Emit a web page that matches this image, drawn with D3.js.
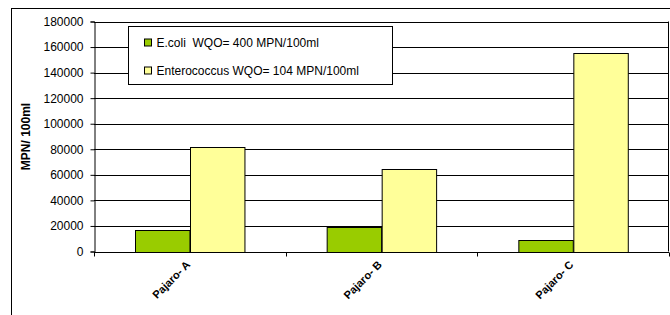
<!DOCTYPE html>
<html>
<head>
<meta charset="utf-8">
<script src="https://cdn.jsdelivr.net/npm/d3@7"></script>
<style>
  body { margin: 0; background: #fff; }
  svg { display: block; font-family: "Liberation Sans", Arial, sans-serif; }
</style>
</head>
<body>
<div id="chart"></div>
<script>
const sites = ["Pajaro- A", "Pajaro- B", "Pajaro- C"];
const seriesNames = ["E.coli  WQO= 400 MPN/100ml", "Enterococcus WQO= 104 MPN/100ml"];
const seriesColors = ["#99CC00", "#FFFF99"];
const ecoli = [17000, 19000, 9000];
const enterococcus = [81600, 64700, 155500];
const yTicks = [0, 20000, 40000, 60000, 80000, 100000, 120000, 140000, 160000, 180000];

const width = 670, height = 315;
const margin = { left: 94, right: 1, top: 21.5, bottom: 63.5 };

const svg = d3.select("#chart").append("svg")
    .attr("width", width)
    .attr("height", height);

// outer chart border (cut off at the bottom like the source)
svg.append("rect")
    .attr("x", 11.5).attr("y", 8.5)
    .attr("width", 670).attr("height", 320)
    .attr("fill", "none")
    .attr("stroke", "#000")
    .attr("stroke-width", 1);

const x = d3.scaleBand()
    .domain(sites)
    .range([margin.left, width - margin.right]);

const xInner = d3.scaleBand()
    .domain([0, 1])
    .range([0, x.bandwidth()])
    .paddingOuter(0.76)
    .paddingInner(0);

const y = d3.scaleLinear()
    .domain([0, 180000])
    .range([height - margin.bottom, margin.top]);

// gridlines
svg.append("g")
    .selectAll("line")
    .data(yTicks)
    .join("line")
    .attr("x1", margin.left)
    .attr("x2", width - margin.right)
    .attr("y1", d => Math.round(y(d)) + 0.5)
    .attr("y2", d => Math.round(y(d)) + 0.5)
    .attr("stroke", "#000")
    .attr("stroke-width", 1);

// right edge of plot area
svg.append("line")
    .attr("x1", width - margin.right - 0.5).attr("x2", width - margin.right - 0.5)
    .attr("y1", y(180000)).attr("y2", y(0))
    .attr("stroke", "#000");

// bars
const rows = sites.map((s, i) => ({ site: s, values: [ecoli[i], enterococcus[i]] }));
const groups = svg.append("g")
    .selectAll("g")
    .data(rows)
    .join("g")
    .attr("transform", d => `translate(${x(d.site)},0)`);

groups.selectAll("rect")
    .data(d => d.values.map((v, k) => ({ k, v })))
    .join("rect")
    .attr("x", d => Math.round(xInner(d.k)) + 0.5)
    .attr("y", d => Math.round(y(d.v)) + 0.5)
    .attr("width", xInner.bandwidth())
    .attr("height", d => Math.round(y(0)) - Math.round(y(d.v)))
    .attr("fill", d => seriesColors[d.k])
    .attr("stroke", "#000")
    .attr("stroke-width", 1);

// y axis
const yAxis = svg.append("g")
    .attr("transform", `translate(${margin.left + 0.5},0)`)
    .call(d3.axisLeft(y).tickValues(yTicks).tickSize(4).tickPadding(7).tickFormat(d3.format("d")));
yAxis.selectAll("text").style("font-size", "12px").attr("fill", "#000");
yAxis.select(".domain").attr("stroke", "#000");

// x axis with ticks at category boundaries
const xAxisY = Math.round(y(0)) + 0.5;
svg.append("line")
    .attr("x1", margin.left).attr("x2", width - margin.right)
    .attr("y1", xAxisY).attr("y2", xAxisY)
    .attr("stroke", "#000");
svg.append("g")
    .selectAll("line")
    .data(sites.map(s => x(s)).concat([x(sites[sites.length - 1]) + x.bandwidth()]))
    .join("line")
    .attr("x1", d => Math.round(d) + 0.5).attr("x2", d => Math.round(d) + 0.5)
    .attr("y1", xAxisY).attr("y2", xAxisY + 4)
    .attr("stroke", "#000");

svg.append("g")
    .selectAll("text")
    .data(sites)
    .join("text")
    .attr("transform", d => `translate(${x(d) + x.bandwidth() / 2 + 1},${xAxisY + 13}) rotate(-45)`)
    .attr("text-anchor", "end")
    .style("font-size", "11px")
    .style("font-weight", "bold")
    .text(d => d);

// y axis title
svg.append("text")
    .attr("transform", `translate(30,${(y(0) + y(180000)) / 2}) rotate(-90)`)
    .attr("text-anchor", "middle")
    .style("font-size", "12px")
    .style("font-weight", "bold")
    .text("MPN/ 100ml");

// legend
const legend = svg.append("g").attr("transform", "translate(128.5,26.5)");
legend.append("rect")
    .attr("width", 264).attr("height", 58)
    .attr("fill", "#fff").attr("stroke", "#000");
const items = legend.selectAll("g")
    .data(seriesNames)
    .join("g")
    .attr("transform", (d, i) => `translate(16,${16 + i * 28})`);
items.append("rect")
    .attr("x", 0).attr("y", -3.5)
    .attr("width", 7).attr("height", 7)
    .attr("fill", (d, i) => seriesColors[i])
    .attr("stroke", "#000");
items.append("text")
    .attr("x", 12).attr("y", 4.5)
    .style("font-size", "12px")
    .style("white-space", "pre")
    .text(d => d);
</script>
</body>
</html>
